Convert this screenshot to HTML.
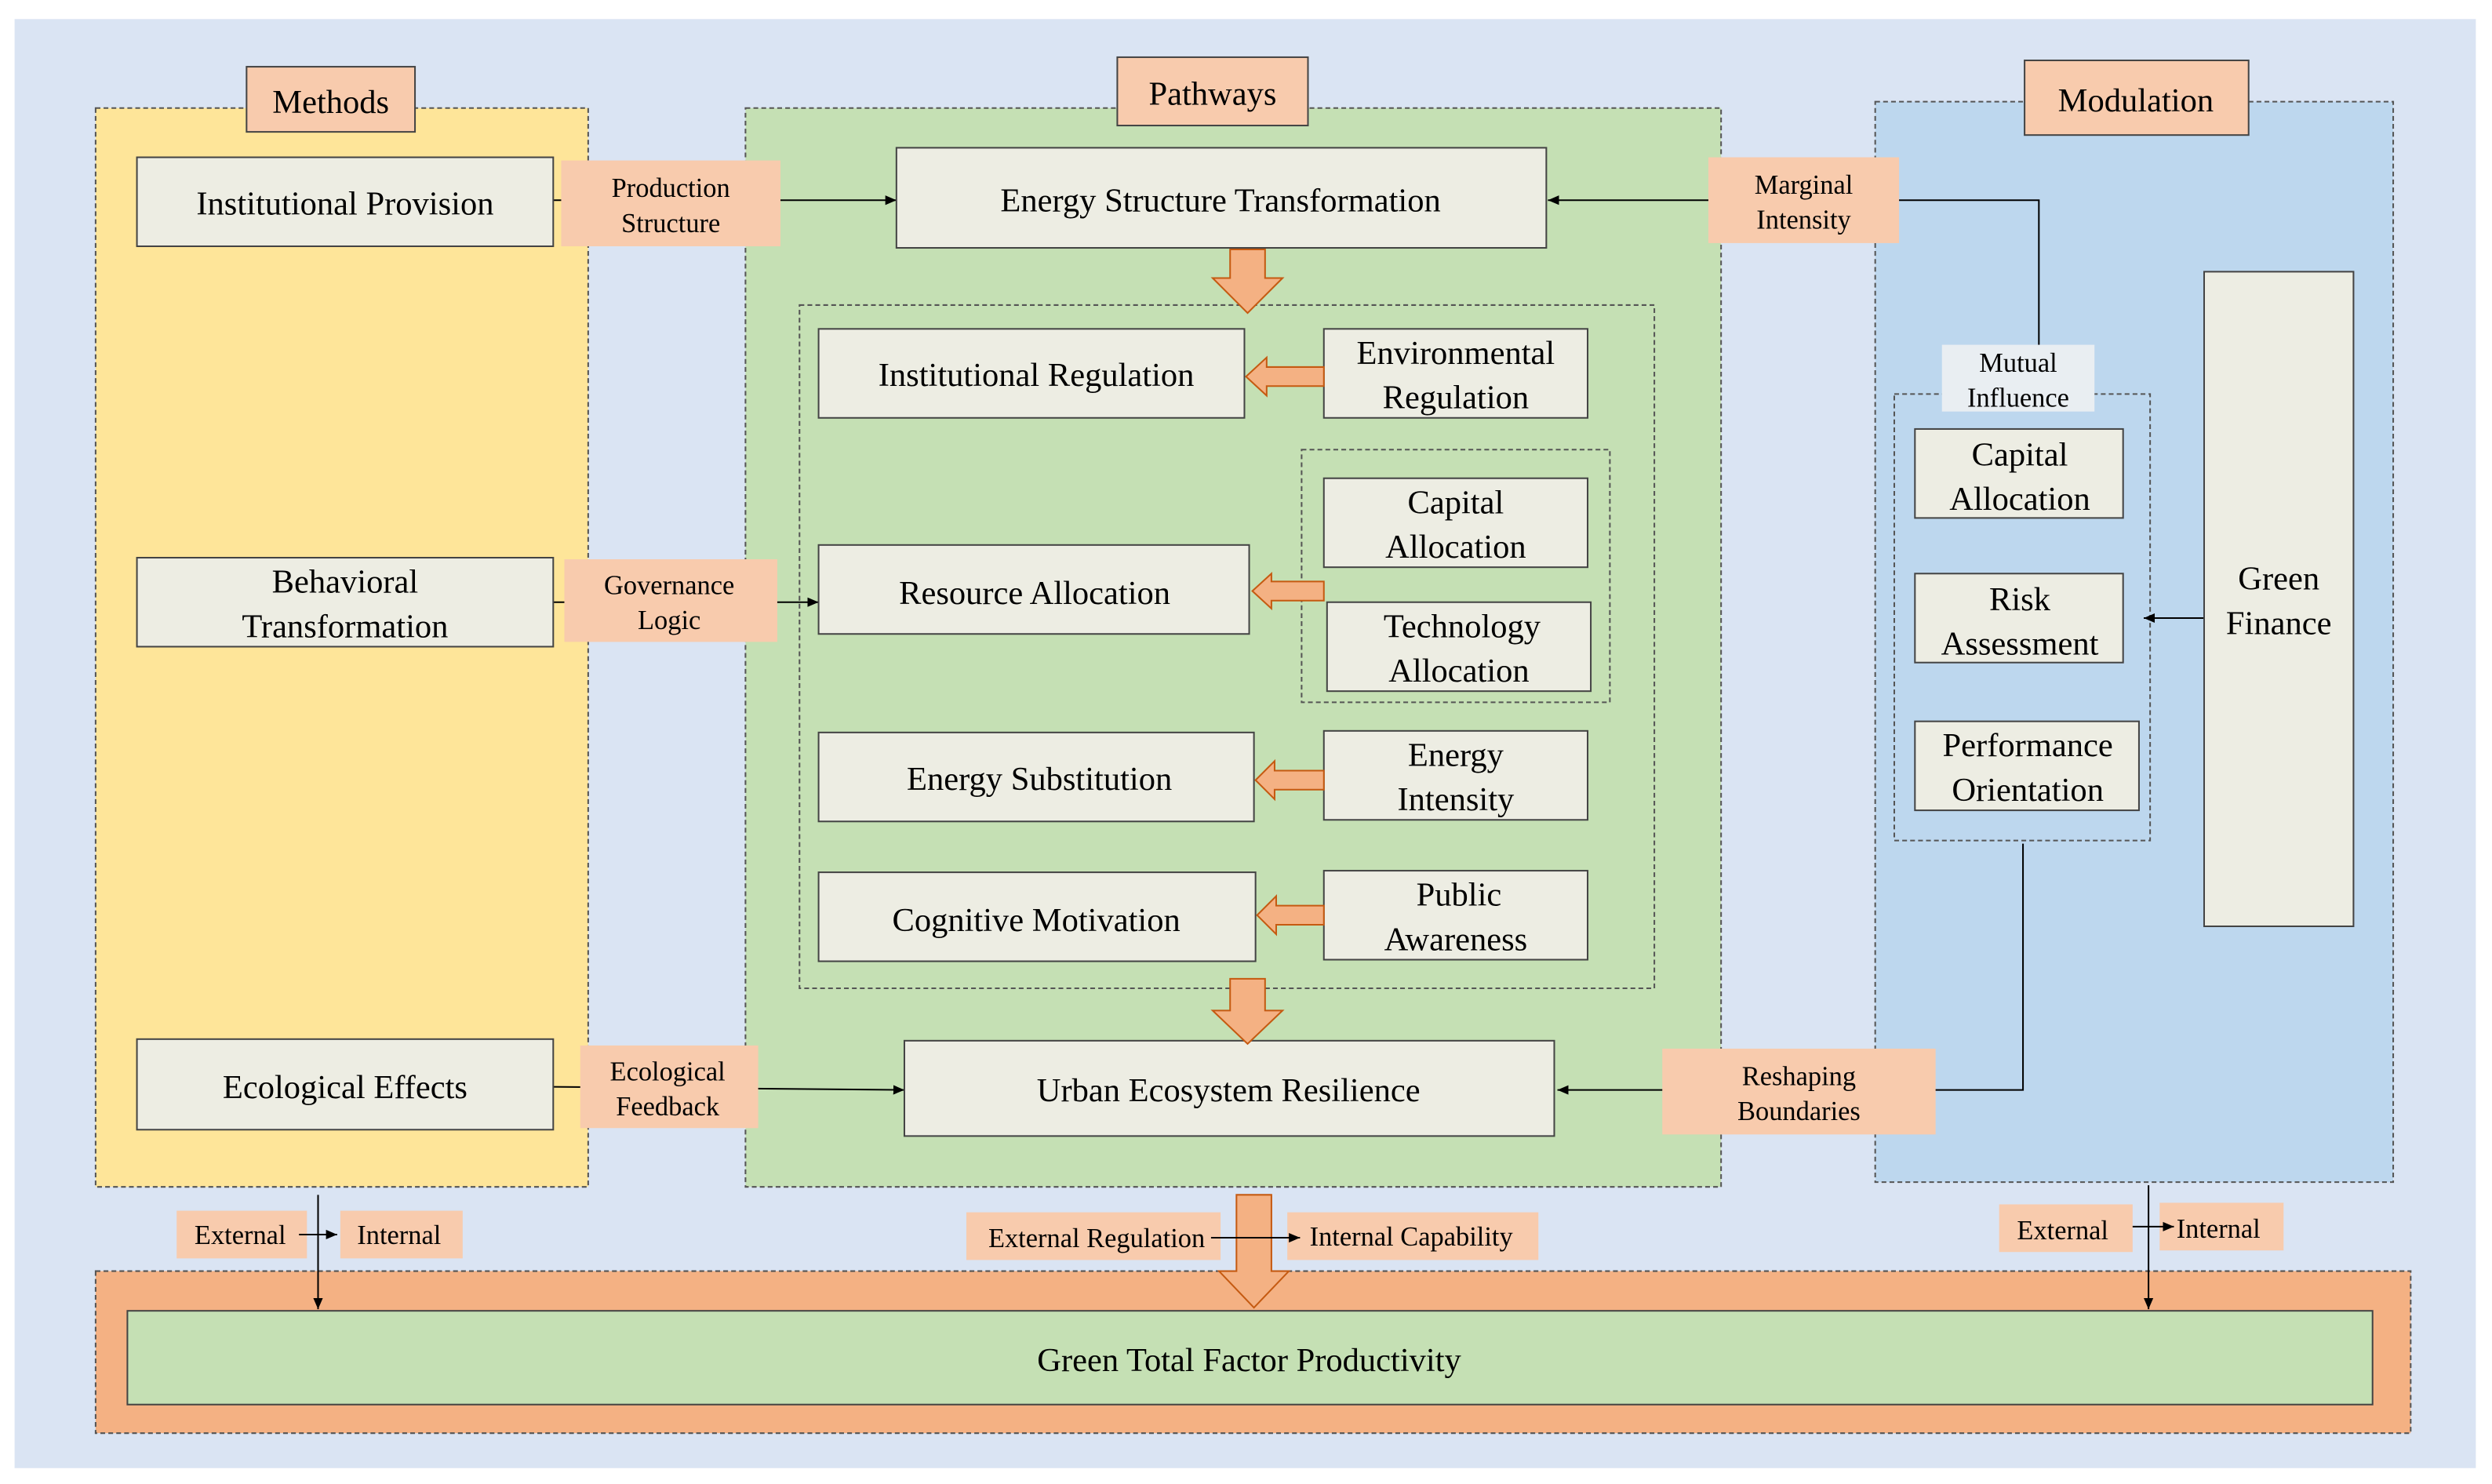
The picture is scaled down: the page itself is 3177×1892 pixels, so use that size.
<!DOCTYPE html>
<html><head><meta charset="utf-8"><style>html,body{margin:0;padding:0;background:#fff}svg{display:block}svg text{font-family:"Liberation Serif","Times New Roman",serif !important}</style></head><body>
<svg width="3177" height="1892" viewBox="0 0 1568 934" xmlns="http://www.w3.org/2000/svg" font-family="Liberation Serif, serif">
<defs><marker id="a" markerWidth="8" markerHeight="8" refX="7" refY="4" orient="auto" markerUnits="userSpaceOnUse"><path d="M0,1 L7,4 L0,7z" fill="#000"/></marker></defs>
<rect x="0" y="0" width="1568" height="934" fill="#fff"/>
<rect x="9" y="12" width="1549" height="912" fill="#dae4f3"/>
<rect x="60" y="68" width="310" height="679" fill="#fee599" stroke="#555" stroke-dasharray="3,2"/>
<rect x="469" y="68" width="614" height="679" fill="#c5e0b4" stroke="#555" stroke-dasharray="3,2"/>
<rect x="1180" y="64" width="326" height="680" fill="#bdd7ee" stroke="#555" stroke-dasharray="3,2"/>
<rect x="60" y="800" width="1457" height="102" fill="#f4b183" stroke="#555" stroke-dasharray="3,2"/>
<rect x="80" y="825" width="1413" height="59" fill="#c5e0b4" stroke="#444"/>
<text x="786" y="863" font-size="21" text-anchor="middle">Green Total Factor Productivity</text>
<g stroke="#444" fill="#f8cbad">
<rect x="155" y="42" width="106" height="41"/><rect x="703" y="36" width="120" height="43"/><rect x="1274" y="38" width="141" height="47"/></g>
<text x="208" y="71" font-size="21" text-anchor="middle">Methods</text>
<text x="763" y="66" font-size="21" text-anchor="middle">Pathways</text>
<text x="1344" y="70" font-size="21" text-anchor="middle">Modulation</text>
<g fill="none" stroke="#555" stroke-dasharray="3,2">
<rect x="503" y="192" width="538" height="430"/><rect x="819" y="283" width="194" height="159"/><rect x="1192" y="248" width="161" height="281"/></g>
<g stroke="#000" stroke-width="1" fill="none">
<line x1="348" y1="126" x2="564" y2="126" marker-end="url(#a)"/>
<line x1="348" y1="379" x2="515" y2="379" marker-end="url(#a)"/>
<line x1="348" y1="684" x2="569" y2="686" marker-end="url(#a)"/>
<polyline points="1283,218 1283,126 974,126" marker-end="url(#a)"/>
<polyline points="1273,531 1273,686 980,686" marker-end="url(#a)"/>
<line x1="1388" y1="389" x2="1349" y2="389" marker-end="url(#a)"/>
</g>
<g fill="#edede3" stroke="#444">
<rect x="86" y="99" width="262" height="56"/><rect x="86" y="351" width="262" height="56"/><rect x="86" y="654" width="262" height="57"/>
<rect x="564" y="93" width="409" height="63"/><rect x="569" y="655" width="409" height="60"/>
<rect x="515" y="207" width="268" height="56"/><rect x="833" y="207" width="166" height="56"/>
<rect x="515" y="343" width="271" height="56"/><rect x="833" y="301" width="166" height="56"/><rect x="835" y="379" width="166" height="56"/>
<rect x="515" y="461" width="274" height="56"/><rect x="833" y="460" width="166" height="56"/>
<rect x="515" y="549" width="275" height="56"/><rect x="833" y="548" width="166" height="56"/>
<rect x="1205" y="270" width="131" height="56"/><rect x="1205" y="361" width="131" height="56"/><rect x="1205" y="454" width="141" height="56"/>
<rect x="1387" y="171" width="94" height="412"/>
</g>
<g font-size="21" text-anchor="middle">
<text x="217" y="135">Institutional Provision</text>
<text x="217" y="373">Behavioral</text><text x="217" y="401">Transformation</text>
<text x="217" y="691">Ecological Effects</text>
<text x="768" y="133">Energy Structure Transformation</text>
<text x="773" y="693">Urban Ecosystem Resilience</text>
<text x="652" y="243">Institutional Regulation</text>
<text x="916" y="229">Environmental</text><text x="916" y="257">Regulation</text>
<text x="651" y="380">Resource Allocation</text>
<text x="916" y="323">Capital</text><text x="916" y="351">Allocation</text>
<text x="920" y="401">Technology</text><text x="918" y="429">Allocation</text>
<text x="654" y="497">Energy Substitution</text>
<text x="916" y="482">Energy</text><text x="916" y="510">Intensity</text>
<text x="652" y="586">Cognitive Motivation</text>
<text x="918" y="570">Public</text><text x="916" y="598">Awareness</text>
<text x="1271" y="293">Capital</text><text x="1271" y="321">Allocation</text>
<text x="1271" y="384">Risk</text><text x="1271" y="412">Assessment</text>
<text x="1276" y="476">Performance</text><text x="1276" y="504">Orientation</text>
<text x="1434" y="371">Green</text><text x="1434" y="399">Finance</text>
</g>
<g fill="#f8cbad">
<rect x="353" y="101" width="138" height="54"/><rect x="355" y="352" width="134" height="52"/><rect x="365" y="658" width="112" height="52"/>
<rect x="1075" y="99" width="120" height="54"/><rect x="1046" y="660" width="172" height="54"/>
<rect x="111" y="762" width="82" height="30"/><rect x="214" y="762" width="77" height="30"/>
<rect x="1258" y="758" width="84" height="30"/><rect x="1359" y="757" width="78" height="30"/>
<rect x="608" y="763" width="160" height="30"/><rect x="810" y="763" width="158" height="30"/>
</g>
<rect x="1222" y="217" width="96" height="42" fill="#e9eef2"/>
<g font-size="17" text-anchor="middle">
<text x="422" y="124">Production</text><text x="422" y="146">Structure</text>
<text x="421" y="374">Governance</text><text x="421" y="396">Logic</text>
<text x="420" y="680">Ecological</text><text x="420" y="702">Feedback</text>
<text x="1135" y="122">Marginal</text><text x="1135" y="144">Intensity</text>
<text x="1132" y="683">Reshaping</text><text x="1132" y="705">Boundaries</text>
<text x="1270" y="234">Mutual</text><text x="1270" y="256">Influence</text>
<text x="151" y="783">External</text><text x="251" y="783">Internal</text>
<text x="1298" y="780">External</text><text x="1396" y="779">Internal</text>
<text x="690" y="785">External Regulation</text><text x="888" y="784">Internal Capability</text>
</g>
<g fill="#f4b183" stroke="#c55a11" stroke-width="1">
<path d="M774,157 L796,157 L796,175 L807,175 L785,197 L763,175 L774,175z"/>
<path d="M774,616 L796,616 L796,636 L807,636 L785,657 L763,636 L774,636z"/>
<path d="M778,752 L800,752 L800,800 L811,800 L789,823 L767,800 L778,800z"/>
<path d="M833,231 L797,231 L797,225 L784,237 L797,249 L797,243 L833,243z"/>
<path d="M833,366 L800,366 L800,361 L788,372 L800,383 L800,378 L833,378z"/>
<path d="M833,485 L802,485 L802,479 L790,491 L802,503 L802,497 L833,497z"/>
<path d="M833,570 L803,570 L803,564 L791,576 L803,588 L803,582 L833,582z"/>
</g>
<g stroke="#000" stroke-width="1" fill="none">
<line x1="200" y1="752" x2="200" y2="824" marker-end="url(#a)"/>
<line x1="1352" y1="746" x2="1352" y2="824" marker-end="url(#a)"/>
<line x1="188" y1="777" x2="212" y2="777" marker-end="url(#a)"/>
<line x1="1342" y1="772" x2="1368" y2="772" marker-end="url(#a)"/>
<line x1="762" y1="779" x2="818" y2="779" marker-end="url(#a)"/>
</g>
</svg>
</body></html>
